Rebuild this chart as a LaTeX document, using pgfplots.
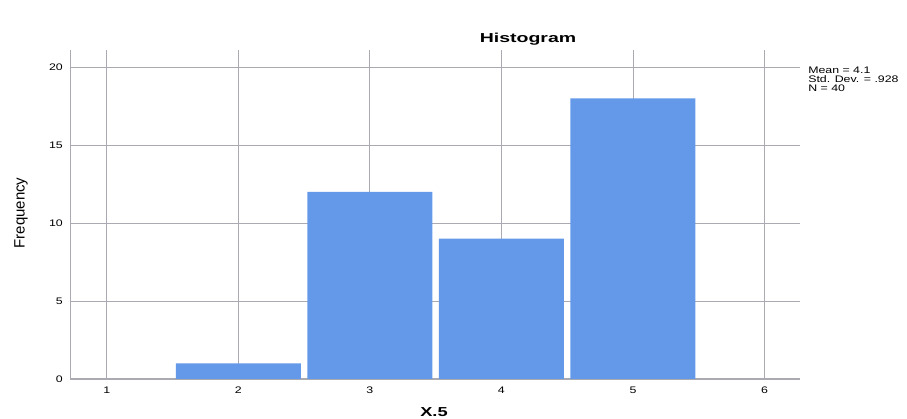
\documentclass[border=0pt]{standalone}
\usepackage{pgfplots}
\pgfplotsset{compat=1.18}
\usepackage{fontspec}
\setmainfont{Liberation Sans}
\definecolor{barblue}{RGB}{99,153,232}
\definecolor{gridgray}{RGB}{170,170,178}
\begin{document}
\begin{tikzpicture}[x=1pt,y=1pt]
\path[use as bounding box] (0,0) rectangle (907,419);
\begin{scope}[shift={(70pt,40pt)}]
\begin{axis}[
    at={(0,0)}, anchor=origin,
    scale only axis,
    width=730pt, height=329pt,
    xmin=0.72, xmax=6.27,
    ymin=0, ymax=21.1,
    axis x line*=bottom, axis y line*=left,
    axis line style={gridgray, line width=1pt},
    xtick={1,2,3,4,5,6},
    ytick={0,5,10,15,20},
    major tick length=0pt,
    grid=major,
    major grid style={gridgray, line width=0.8pt},
    ticklabel style={font=\fontsize{9.5}{11}\selectfont, xscale=1.3},
    /pgf/number format/assume math mode=true,
    xticklabel style={yshift=-4pt},
    yticklabel style={xshift=-2pt},
    clip=false,
]
\addplot[ybar, bar width=0.95, fill=barblue, draw=none] coordinates {
    (2,1) (3,12) (4,9) (5,18)
};
\end{axis}
\end{scope}
\node[font=\bfseries\fontsize{13}{15}\selectfont, xscale=1.5] at (528,380) {Histogram};
\node[rotate=90, font=\fontsize{15}{17}\selectfont] at (21,206) {Frequency};
\node[font=\bfseries\fontsize{13}{15}\selectfont, xscale=1.4] at (434,7) {X.5};
\node[anchor=north west, align=left, inner sep=0pt, font=\fontsize{9.5}{9}\selectfont, xscale=1.3] at (808,352)
    {Mean = 4.1\\Std. Dev. = .928\\N = 40};
\end{tikzpicture}
\end{document}
